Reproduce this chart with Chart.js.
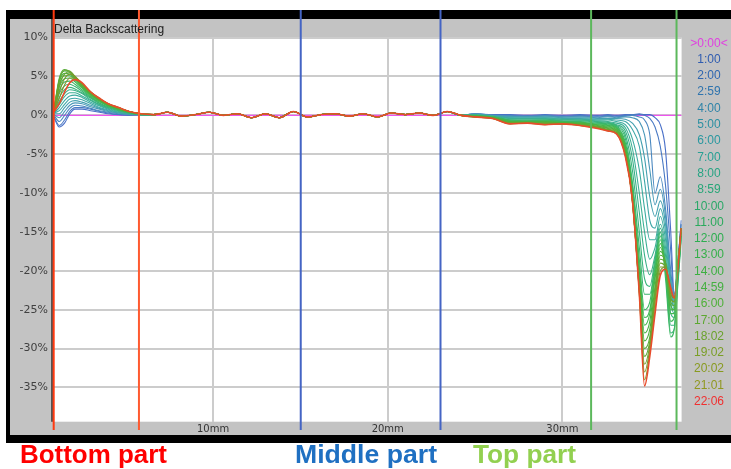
<!DOCTYPE html>
<html>
<head>
<meta charset="utf-8">
<script src="https://cdn.jsdelivr.net/npm/chart.js@4/dist/chart.umd.min.js"></script>
<style>
html,body{margin:0;padding:0;background:#fff;}
canvas{display:block;}
</style>
</head>
<body>
<canvas id="c" width="731" height="469"></canvas>
<script>
// ---------- DATA ----------
const chartTitle = 'Delta Backscattering';
const timeLabels = ['>0:00<','1:00','2:00','2:59','4:00','5:00','6:00','7:00','8:00','8:59','10:00','11:00','12:00','13:00','14:00','14:59','16:00','17:00','18:02','19:02','20:02','21:01','22:06'];
const xTickValues = [10, 20, 30];
const yTickValues = [10, 5, 0, -5, -10, -15, -20, -25, -30, -35];
const regionLinePositions = [0.88, 5.76, 15.02, 23.02, 31.64, 36.53]; // mm
const partLabels = ['Bottom part', 'Middle part', 'Top part'];

// positions (mm)
const bottomPositions = [0.9, 1.2, 1.5, 1.8, 2.1, 2.5, 3.0, 3.5, 4.0, 4.6, 5.2, 5.9];
const middlePositions = [6.6, 7.4, 8.2, 9.0, 9.8, 10.6, 11.4, 12.2, 13.0, 13.8, 14.6, 15.4, 16.2, 17.0, 17.8, 18.6, 19.4, 20.2, 21.0, 21.8, 22.6, 23.4, 24.2];
const topPositions = [25.0, 26.0, 27.0, 28.0, 29.0, 30.0, 31.0, 32.0, 32.6, 33.1, 33.6, 34.0, 34.4, 34.7, 35.0, 35.3, 35.6, 35.9, 36.2, 36.4, 36.6, 36.8];

// reference (0:00) line
const referencePositions = [0.84, 36.82];
const referenceValues = [0, 0];

// middle part: all curves overlap (%)
const middlePartValues = [0.1, 0.4, -0.1, 0.1, 0.4, 0.0, 0.2, -0.3, 0.2, -0.3, 0.5, -0.2, 0.1, 0.2, -0.1, 0.2, -0.2, 0.3, 0.1, 0.3, 0.0, 0.5, 0.0];

// bottom part values (%), one row per time 1:00 .. 22:06
const bottomPartValues = [
  [-0.3, -1.5, -1.0, 0.2, 0.8, 0.8, 0.6, 0.4, 0.2, 0.1, 0.0, 0.1],
  [-0.2, -1.3, -0.6, 0.5, 1.0, 1.0, 0.8, 0.5, 0.3, 0.1, 0.1, 0.1],
  [0.0, -0.8, 0.0, 0.9, 1.3, 1.2, 0.9, 0.6, 0.4, 0.2, 0.1, 0.1],
  [0.1, -0.3, 0.5, 1.3, 1.6, 1.5, 1.1, 0.8, 0.5, 0.3, 0.1, 0.1],
  [0.2, 0.2, 1.0, 1.7, 1.9, 1.7, 1.3, 0.9, 0.6, 0.3, 0.2, 0.1],
  [0.3, 0.6, 1.4, 2.1, 2.2, 2.0, 1.5, 1.0, 0.7, 0.4, 0.2, 0.1],
  [0.3, 1.0, 1.9, 2.5, 2.6, 2.3, 1.7, 1.2, 0.8, 0.4, 0.2, 0.1],
  [0.4, 1.4, 2.4, 2.9, 2.9, 2.5, 1.9, 1.3, 0.9, 0.5, 0.3, 0.1],
  [0.4, 1.8, 2.8, 3.3, 3.2, 2.8, 2.0, 1.4, 1.0, 0.6, 0.3, 0.1],
  [0.5, 2.3, 3.3, 3.6, 3.4, 2.9, 2.2, 1.5, 1.0, 0.6, 0.3, 0.1],
  [0.5, 2.8, 3.8, 4.0, 3.7, 3.1, 2.3, 1.6, 1.1, 0.7, 0.3, 0.1],
  [0.6, 3.2, 4.3, 4.4, 4.0, 3.3, 2.4, 1.7, 1.2, 0.7, 0.4, 0.1],
  [0.6, 3.6, 4.7, 4.8, 4.3, 3.5, 2.5, 1.8, 1.2, 0.8, 0.4, 0.2],
  [0.7, 4.0, 5.1, 5.1, 4.5, 3.6, 2.6, 1.9, 1.3, 0.8, 0.4, 0.2],
  [0.7, 4.3, 5.4, 5.3, 4.7, 3.7, 2.7, 1.9, 1.3, 0.8, 0.4, 0.2],
  [0.8, 4.6, 5.7, 5.5, 4.8, 3.8, 2.7, 2.0, 1.4, 0.9, 0.5, 0.2],
  [0.8, 4.8, 5.9, 5.6, 4.9, 3.9, 2.8, 2.0, 1.4, 0.9, 0.5, 0.2],
  [0.8, 4.5, 5.8, 5.7, 5.0, 4.0, 2.9, 2.1, 1.4, 0.9, 0.5, 0.2],
  [0.7, 3.8, 5.3, 5.6, 5.0, 4.0, 2.9, 2.1, 1.5, 0.9, 0.5, 0.2],
  [0.6, 3.0, 4.7, 5.3, 5.0, 4.1, 3.0, 2.1, 1.5, 1.0, 0.5, 0.2],
  [0.5, 2.2, 3.9, 4.8, 4.8, 4.1, 3.0, 2.2, 1.5, 1.0, 0.5, 0.2],
  [0.5, 1.5, 3.0, 4.2, 4.6, 4.2, 3.0, 2.2, 1.5, 1.0, 0.5, 0.2]
];

// top part values (%), one row per time 1:00 .. 22:06
const topPartValues = [
  [0.2, 0.1, 0.1, 0.0, 0.1, 0.0, 0.1, 0.0, 0.1, 0.0, 0.1, 0.1, 0.2, 0.1, 0.1, -0.3, -1.2, -4.5, -15.0, -23.0, -19.0, -13.5],
  [0.2, 0.0, 0.0, -0.1, 0.0, -0.1, 0.0, -0.1, 0.0, -0.1, 0.0, 0.1, 0.1, 0.0, -0.4, -1.5, -4.0, -9.0, -17.5, -23.5, -19.0, -14.0],
  [0.2, 0.0, -0.1, -0.1, 0.0, -0.2, -0.1, -0.2, -0.1, -0.2, -0.1, 0.0, -0.2, -0.6, -2.5, -10.0, -7.9, -12.0, -20.0, -23.5, -19.0, -14.0],
  [0.2, 0.0, -0.1, -0.2, -0.1, -0.2, -0.2, -0.3, -0.2, -0.3, -0.2, -0.3, -0.8, -2.5, -7.0, -11.5, -9.5, -13.0, -21.0, -24.0, -19.5, -14.5],
  [0.1, -0.1, -0.2, -0.2, -0.2, -0.3, -0.3, -0.4, -0.4, -0.4, -0.5, -1.0, -2.5, -5.5, -10.5, -13.0, -11.0, -14.0, -21.5, -24.0, -19.5, -14.5],
  [0.1, -0.1, -0.3, -0.3, -0.3, -0.4, -0.4, -0.5, -0.5, -0.6, -0.8, -1.8, -4.0, -8.5, -13.5, -14.5, -12.0, -15.0, -22.0, -24.5, -20.0, -15.0],
  [0.1, -0.1, -0.3, -0.4, -0.3, -0.5, -0.5, -0.6, -0.6, -0.8, -1.2, -3.0, -7.0, -12.0, -16.0, -16.0, -13.0, -16.0, -22.5, -25.0, -20.0, -15.0],
  [0.0, -0.1, -0.4, -0.4, -0.4, -0.5, -0.6, -0.7, -0.8, -1.0, -1.6, -4.2, -10.0, -15.0, -18.5, -17.0, -14.0, -17.0, -24.0, -25.5, -20.5, -15.0],
  [0.0, -0.2, -0.5, -0.5, -0.5, -0.6, -0.6, -0.8, -0.9, -1.2, -2.0, -5.5, -12.5, -18.0, -20.5, -18.0, -14.5, -18.0, -25.5, -26.0, -21.0, -15.5],
  [0.0, -0.2, -0.6, -0.6, -0.6, -0.7, -0.7, -0.9, -1.0, -1.3, -2.5, -7.0, -15.0, -21.0, -22.0, -18.5, -15.0, -19.0, -27.0, -27.0, -21.5, -15.5],
  [0.0, -0.2, -0.6, -0.7, -0.6, -0.8, -0.8, -1.0, -1.1, -1.4, -3.0, -8.5, -17.0, -23.0, -23.0, -19.0, -15.0, -20.0, -28.0, -27.5, -22.0, -16.0],
  [-0.1, -0.2, -0.7, -0.7, -0.7, -0.8, -0.9, -1.1, -1.2, -1.5, -3.5, -9.0, -18.5, -25.0, -24.0, -19.5, -15.5, -21.0, -28.5, -27.5, -21.0, -15.5],
  [-0.1, -0.2, -0.7, -0.8, -0.7, -0.9, -0.9, -1.2, -1.3, -1.6, -3.8, -9.5, -19.5, -26.0, -25.0, -20.0, -16.0, -20.0, -26.5, -26.0, -20.5, -15.5],
  [-0.1, -0.3, -0.8, -0.8, -0.8, -0.9, -1.0, -1.2, -1.4, -1.7, -4.0, -10.0, -20.0, -27.0, -25.5, -20.5, -16.5, -19.5, -25.5, -25.5, -20.0, -15.0],
  [-0.1, -0.3, -0.8, -0.9, -0.8, -1.0, -1.0, -1.3, -1.5, -1.8, -4.2, -10.5, -21.0, -28.0, -26.5, -21.0, -17.0, -19.5, -25.0, -25.0, -20.0, -15.0],
  [-0.1, -0.3, -0.9, -0.9, -0.9, -1.0, -1.1, -1.4, -1.6, -1.9, -4.5, -10.5, -21.5, -29.0, -27.5, -22.0, -17.5, -19.0, -24.5, -25.0, -19.5, -14.5],
  [-0.2, -0.3, -0.9, -0.9, -0.9, -1.0, -1.1, -1.4, -1.7, -2.0, -4.6, -11.0, -22.0, -30.0, -28.5, -22.5, -18.0, -19.0, -24.0, -24.5, -19.5, -14.5],
  [-0.2, -0.3, -1.0, -1.0, -1.0, -1.1, -1.2, -1.5, -1.8, -2.1, -4.8, -11.0, -22.5, -31.0, -29.0, -23.0, -18.5, -19.0, -23.5, -24.0, -19.5, -14.5],
  [-0.2, -0.3, -1.0, -1.0, -1.1, -1.1, -1.2, -1.5, -1.9, -2.2, -5.0, -11.0, -22.5, -32.0, -29.5, -23.5, -19.0, -19.5, -23.5, -24.0, -19.5, -14.5],
  [-0.2, -0.4, -1.0, -1.0, -1.1, -1.1, -1.3, -1.6, -1.9, -2.3, -5.1, -10.8, -22.8, -33.0, -30.0, -24.0, -19.5, -19.5, -23.0, -23.5, -19.5, -14.5],
  [-0.2, -0.4, -1.1, -1.0, -1.2, -1.1, -1.3, -1.6, -2.0, -2.4, -5.2, -10.8, -23.0, -34.0, -30.5, -25.0, -20.0, -19.5, -22.5, -23.5, -19.5, -14.5],
  [-0.2, -0.4, -1.1, -1.0, -1.2, -1.1, -1.3, -1.7, -2.0, -2.4, -5.3, -10.8, -23.0, -34.8, -31.0, -25.5, -20.6, -19.8, -22.2, -23.5, -19.8, -14.5]
];

// ---------- STYLES ----------
const legendColors = ['#e040e0','#2f5cb0','#2f66b0','#2f74ae','#2f84a8','#2c90a2','#2a98a0','#28a094','#28a484','#28a678','#2aa868','#2aaa5c','#2eae50','#34b048','#3cb040','#44b040','#4eb038','#5ca830','#6aa22c','#7a9e26','#889a20','#909820','#f03030'];
const lineColors = ['#ee55ee','#4a70c8','#4a7ac4','#4a88c0','#4a98b8','#44a0b0','#40a8a8','#3eaca0','#3cb094','#3ab088','#3ab47c','#3ab470','#3cb864','#40b858','#44b84c','#48b444','#4cb040','#58ac3a','#64a834','#70a030','#7c9a2c','#889428','#e84c2c'];
const regionLineColors = ['#ff3a10','#ff5a30','#4464c4','#4464c4','#5cb85c','#5cb85c'];
const partColors = ['#ff0000','#1f70c2','#92d050'];

// ---------- BUILD ----------
function buildPoints(i) {
  const pts = [];
  bottomPositions.forEach((x, j) => pts.push({x: x, y: bottomPartValues[i][j]}));
  middlePositions.forEach((x, j) => pts.push({x: x, y: middlePartValues[j]}));
  topPositions.forEach((x, j) => pts.push({x: x, y: topPartValues[i][j]}));
  return pts;
}

const datasets = [{
  label: timeLabels[0],
  data: referencePositions.map((x, j) => ({x: x, y: referenceValues[j]})),
  borderColor: lineColors[0],
  borderWidth: 1.2,
  order: 100
}];
for (let i = 0; i < bottomPartValues.length; i++) {
  datasets.push({
    label: timeLabels[i + 1],
    data: buildPoints(i),
    borderColor: lineColors[i + 1],
    borderWidth: (i === bottomPartValues.length - 1) ? 1.6 : 1.1,
    order: bottomPartValues.length - i
  });
}

const chromePlugin = {
  id: 'chrome',
  beforeDraw(chart) {
    const ctx = chart.ctx;
    const a = chart.chartArea;
    ctx.save();
    ctx.fillStyle = '#ffffff';
    ctx.fillRect(0, 0, chart.width, chart.height);
    ctx.fillStyle = '#000000';
    ctx.fillRect(6, 10, 725, 433);
    ctx.fillStyle = '#c3c3c3';
    ctx.fillRect(10, 19, 721, 416);
    ctx.fillStyle = '#ffffff';
    ctx.fillRect(a.left, a.top, a.right - a.left, a.bottom - a.top);
    ctx.strokeStyle = '#555555';
    ctx.lineWidth = 2;
    ctx.beginPath();
    ctx.moveTo(a.left - 1, 19);
    ctx.lineTo(a.left - 1, a.bottom);
    ctx.stroke();
    ctx.restore();
  },
  afterDraw(chart) {
    const ctx = chart.ctx;
    const a = chart.chartArea;
    const xs = chart.scales.x;
    ctx.save();
    // region boundary lines
    regionLinePositions.forEach((p, k) => {
      const x = xs.getPixelForValue(p);
      ctx.strokeStyle = regionLineColors[k];
      ctx.lineWidth = 2;
      ctx.beginPath();
      ctx.moveTo(x, 10);
      ctx.lineTo(x, 430);
      ctx.stroke();
    });
    // title
    ctx.fillStyle = '#202020';
    ctx.font = '12px "Liberation Sans"';
    ctx.textBaseline = 'middle';
    ctx.textAlign = 'left';
    ctx.fillText(chartTitle, a.left + 1, 30);
    // legend
    ctx.font = '12px "Liberation Sans"';
    ctx.textAlign = 'center';
    timeLabels.forEach((t, i) => {
      ctx.fillStyle = legendColors[i];
      ctx.fillText(t, 709, 43.3 + i * 16.29);
    });
    // part labels below
    const starts = [20, 295, 473];
    const widths = [147, 142, 103];
    ctx.font = 'bold 25px "Liberation Sans"';
    ctx.textAlign = 'left';
    ctx.textBaseline = 'alphabetic';
    partLabels.forEach((t, k) => {
      const w = ctx.measureText(t).width;
      ctx.save();
      ctx.translate(starts[k], 463);
      ctx.scale(widths[k] / w, 1);
      ctx.fillStyle = partColors[k];
      ctx.fillText(t, 0, 0);
      ctx.restore();
    });
    ctx.restore();
  }
};

new Chart(document.getElementById('c').getContext('2d'), {
  type: 'line',
  data: { datasets: datasets },
  options: {
    responsive: false,
    animation: false,
    devicePixelRatio: 1,
    layout: { padding: { left: 0, right: 49.4, top: 37.6, bottom: 27.3 } },
    plugins: { legend: { display: false }, tooltip: { enabled: false }, title: { display: false } },
    elements: {
      point: { radius: 0 },
      line: { cubicInterpolationMode: 'monotone', fill: false }
    },
    scales: {
      x: {
        type: 'linear',
        min: 0.84,
        max: 36.82,
        afterBuildTicks: s => { s.ticks = xTickValues.map(v => ({ value: v })); },
        afterFit: s => { s.height = 20; },
        grid: { color: '#cccccc', lineWidth: 2, drawTicks: false },
        border: { display: false },
        ticks: {
          padding: 2, color: '#333333', maxRotation: 0, autoSkip: false,
          font: { family: 'DejaVu Sans', size: 10 },
          callback: v => v + 'mm'
        }
      },
      y: {
        type: 'linear',
        min: -39.4,
        max: 10,
        afterBuildTicks: s => { s.ticks = yTickValues.map(v => ({ value: v })); },
        afterFit: s => { s.width = 53; },
        grid: { color: '#cccccc', lineWidth: 2, drawTicks: false },
        border: { display: false },
        ticks: {
          padding: 5, color: '#404040',
          font: { family: 'DejaVu Sans', size: 11 },
          callback: v => v + '%'
        }
      }
    }
  },
  plugins: [chromePlugin]
});
</script>
</body>
</html>
